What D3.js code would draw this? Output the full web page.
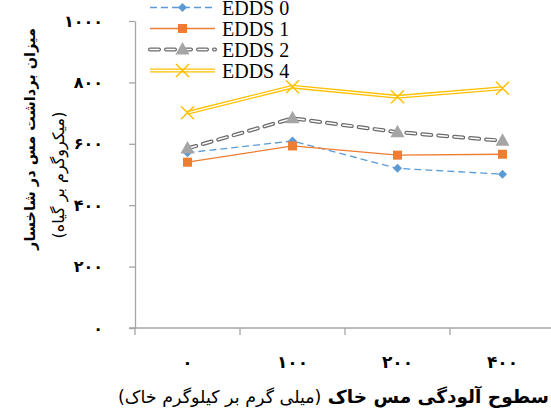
<!DOCTYPE html>
<html>
<head>
<meta charset="utf-8">
<script src="https://cdn.jsdelivr.net/npm/d3@7"></script>
<style>
  body { margin: 0; background: #fff; }
  svg { display: block; }
</style>
</head>
<body>
<div id="chart"></div>
<script>
'use strict';

// soil copper levels (mg/kg), shown with Persian digits
const levels = ['۰', '۱۰۰', '۲۰۰', '۴۰۰'];
const yTicks = [0, 200, 400, 600, 800, 1000];
const yTickLabels = ['۰', '۲۰۰', '۴۰۰', '۶۰۰', '۸۰۰', '۱۰۰۰'];

const edds0 = [571, 609, 520, 501];
const edds1 = [540, 593, 563, 566];
const edds2 = [585, 683, 638, 610];
const edds4 = [701, 786, 753, 781];

const seriesNames = ['EDDS 0', 'EDDS 1', 'EDDS 2', 'EDDS 4'];

const width = 551, height = 410;
const margin = {top: 21, right: -4, bottom: 82, left: 135};

let svg = d3.select('#chart').append('svg')
    .attr('width', width)
    .attr('height', height);

let x = d3.scaleBand()
    .domain(levels)
    .range([margin.left, width - margin.right]);

let y = d3.scaleLinear()
    .domain([0, 1000])
    .range([height - margin.bottom, margin.top]);

const axisColor = '#a6a6a6';
const faFont = '"DejaVu Sans", sans-serif';
const serif = '"Liberation Serif", "Times New Roman", Times, serif';

// y axis
let yAxis = svg.append('g')
    .attr('transform', `translate(${margin.left},0)`)
    .call(d3.axisLeft(y).tickValues(yTicks)
        .tickFormat((d, i) => yTickLabels[i])
        .tickSize(6).tickSizeOuter(0).tickPadding(26));
yAxis.selectAll('path, line').attr('stroke', axisColor).attr('stroke-width', 1.3);
yAxis.selectAll('text')
    .attr('font-family', faFont)
    .attr('font-weight', 'bold')
    .attr('font-size', 16)
    .attr('fill', '#000');

// x axis, ticks sit between categories
let xAxis = svg.append('g')
    .attr('transform', `translate(0,${y(0)})`);
xAxis.append('line')
    .attr('x1', margin.left - 6).attr('x2', width)
    .attr('stroke', axisColor).attr('stroke-width', 1.3);
xAxis.selectAll('.tk')
    .data(levels)
    .join('line')
    .attr('class', 'tk')
    .attr('x1', d => x(d)).attr('x2', d => x(d))
    .attr('y1', 0).attr('y2', 7)
    .attr('stroke', axisColor).attr('stroke-width', 1.3);
xAxis.selectAll('text')
    .data(levels)
    .join('text')
    .attr('x', d => x(d) + x.bandwidth() / 2)
    .attr('y', 40)
    .attr('text-anchor', 'middle')
    .attr('font-family', faFont)
    .attr('font-weight', 'bold')
    .attr('font-size', 17)
    .text(d => d);

let cx = (d, i) => x(levels[i]) + x.bandwidth() / 2;
let line = d3.line().x(cx).y(d => y(d));

// series lines
function drawLine(g, data, styles) {
    styles.forEach(s => {
        g.append('path')
            .datum(data)
            .attr('d', line)
            .attr('fill', 'none')
            .attr('stroke', s.color)
            .attr('stroke-width', s.w)
            .attr('stroke-dasharray', s.dash || null)
            .attr('stroke-linecap', s.cap || 'butt');
    });
}

function marker(g, type, px, py) {
    if (type === 'diamond') {
        g.append('path')
            .attr('d', `M${px},${py - 4.5}L${px + 4.5},${py}L${px},${py + 4.5}L${px - 4.5},${py}Z`)
            .attr('fill', '#5b9bd5');
    } else if (type === 'square') {
        g.append('rect')
            .attr('x', px - 4.5).attr('y', py - 4.5)
            .attr('width', 9).attr('height', 9)
            .attr('fill', '#ed7d31');
    } else if (type === 'triangle') {
        g.append('path')
            .attr('d', `M${px},${py - 7.5}L${px + 7},${py + 5}L${px - 7},${py + 5}Z`)
            .attr('fill', '#a5a5a5');
    } else if (type === 'x') {
        g.append('path')
            .attr('d', `M${px - 6.5},${py - 6.5}L${px + 6.5},${py + 6.5}M${px - 6.5},${py + 6.5}L${px + 6.5},${py - 6.5}`)
            .attr('stroke', '#ffc000').attr('stroke-width', 1.5);
    }
}

const styleSets = [
    [{color: '#5b9bd5', w: 1.3, dash: '7,4'}],
    [{color: '#ed7d31', w: 1.3}],
    [{color: '#6a6a6a', w: 4, dash: '9,7', cap: 'round'}, {color: '#fff', w: 1.5, dash: '9,7', cap: 'round'}],
    [{color: '#ffc000', w: 4}, {color: '#fff', w: 1.3}]
];
const markerTypes = ['diamond', 'square', 'triangle', 'x'];
const allSeries = [edds0, edds1, edds2, edds4];

let plot = svg.append('g');
allSeries.forEach((s, k) => drawLine(plot, s, styleSets[k]));
allSeries.forEach((s, k) => s.forEach((v, i) => marker(plot, markerTypes[k], cx(v, i), y(v))));

// legend (top row is cut by the frame edge, as in the source)
let legend = svg.append('g');
seriesNames.forEach((name, k) => {
    let ly = 7.5 + k * 21;
    let lg = legend.append('g');
    styleSets[k].forEach(s => {
        lg.append('line')
            .attr('x1', 150).attr('x2', 215)
            .attr('y1', ly).attr('y2', ly)
            .attr('stroke', s.color)
            .attr('stroke-width', s.w)
            .attr('stroke-dasharray', s.dash || null)
            .attr('stroke-linecap', s.cap || 'butt');
    });
    marker(lg, markerTypes[k], 182.5, ly);
    lg.append('text')
        .attr('x', 222).attr('y', ly + 7.5)
        .style('font-family', serif)
        .attr('font-size', 20)
        .text(name);
});

// axis titles
svg.append('text')
    .attr('transform', 'translate(35,139) rotate(-90)')
    .attr('text-anchor', 'middle')
    .attr('font-family', faFont)
    .attr('font-weight', 'bold')
    .attr('font-size', 14.5)
    .attr('direction', 'rtl')
    .text('میزان برداشت مس در شاخسار');

svg.append('text')
    .attr('transform', 'translate(64,175) rotate(-90)')
    .attr('text-anchor', 'middle')
    .attr('font-family', faFont)
    .attr('font-size', 16)
    .attr('direction', 'rtl')
    .text('(میکروگرم بر گیاه)');

let xt = svg.append('text')
    .attr('x', 549).attr('y', 403)
    .attr('text-anchor', 'start')
    .attr('direction', 'rtl')
    .attr('font-family', faFont)
    .attr('font-size', 18.5);
xt.append('tspan').attr('font-weight', 'bold').text('سطوح آلودگی مس خاک ');
xt.append('tspan').attr('font-size', 17.5).text('(میلی گرم بر کیلوگرم خاک)');
</script>
</body>
</html>
